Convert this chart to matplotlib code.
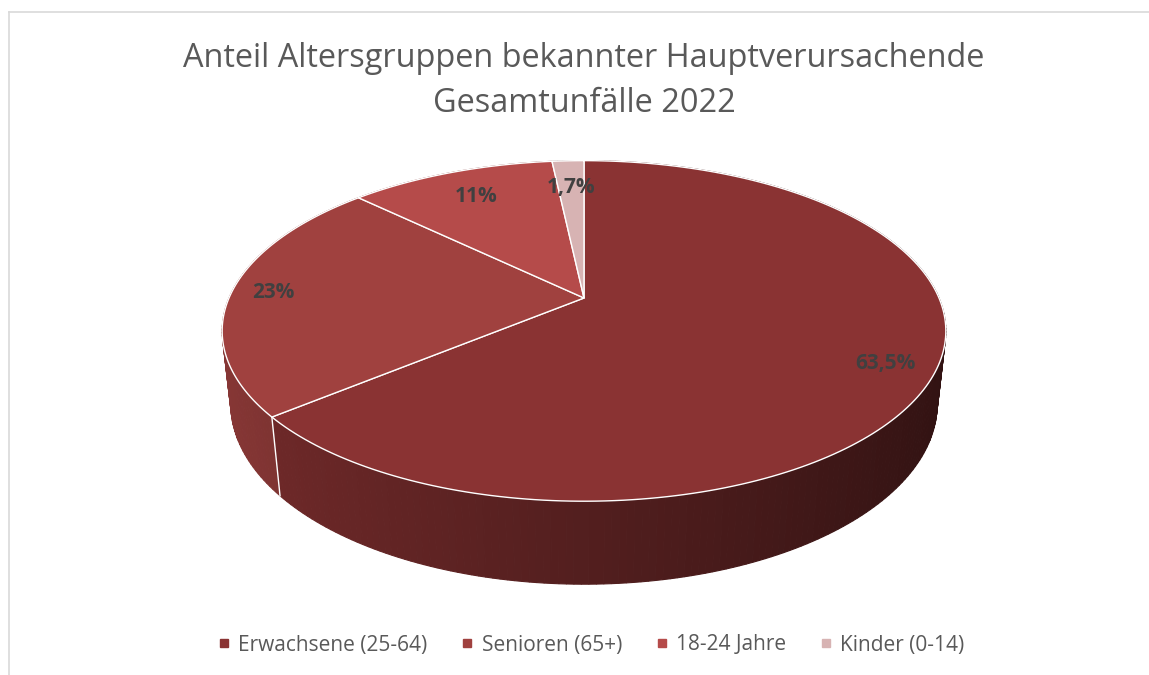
import numpy as np
import matplotlib
matplotlib.use('Agg')
import matplotlib.pyplot as plt
from matplotlib.patches import Polygon
from matplotlib.lines import Line2D

# data
categories = ['Erwachsene (25-64)', 'Senioren (65+)', '18-24 Jahre', 'Kinder (0-14)']
shares = [63.5, 23, 11, 1.7]
colors = ['#8a3333', '#a0413f', '#b54b4a', '#d7b3b3']
title = 'Anteil Altersgruppen bekannter Hauptverursachende\nGesamtunfälle 2022'

plt.rcParams['font.family'] = ['Open Sans', 'DejaVu Sans']

# 3d view of the pie, in pixel units of the figure
W, H = 1149, 675
ELEV = np.radians(27.5)
PERSP = 0.218
DEPTH = 0.234
SCALE = 355
CX, CY = 584, 298
LABEL_R = [0.87, 0.88, 0.78, 0.78]


def project(phi, r=1.0, z=0.0):
    # phi runs clockwise from 12 o'clock, like in excel
    x = r * np.sin(phi)
    y = r * np.cos(phi)
    dep = y * np.cos(ELEV) - z * np.sin(ELEV)
    f = 1 + PERSP * dep
    u = x / f
    v = (y * np.sin(ELEV) + z * np.cos(ELEV)) / f
    return CX + SCALE * u, CY - SCALE * v


def shade(color, phi):
    rgb = np.array(matplotlib.colors.to_rgb(color))
    f = 0.6 - 0.25 * np.sin(phi)
    return tuple(np.clip(rgb * f, 0, 1))


fig = plt.figure(figsize=(W / 100, H / 100), dpi=100)
ax = fig.add_axes([0, 0, 1, 1])
ax.set_xlim(0, W)
ax.set_ylim(H, 0)
ax.axis('off')

vals = np.array(shares, dtype=float)
bounds = np.concatenate([[0], np.cumsum(vals)]) / vals.sum() * 2 * np.pi

# side of the cylinder, far pieces first
quads = []
for i, c in enumerate(colors):
    a0, a1 = bounds[i], bounds[i + 1]
    n = max(2, int(np.degrees(a1 - a0)))
    ph = np.linspace(a0, a1, n + 1)
    for p0, p1 in zip(ph[:-1], ph[1:]):
        pm = (p0 + p1) / 2
        pts = [project(p0), project(p1),
               project(p1, z=-DEPTH), project(p0, z=-DEPTH)]
        quads.append((np.cos(pm), pts, shade(c, pm)))
quads.sort(key=lambda q: -q[0])
for _, pts, col in quads:
    ax.add_patch(Polygon(pts, closed=True, facecolor=col, edgecolor=col,
                         linewidth=0.8))

# white seams on the visible side
for b in bounds:
    if np.cos(b) < -0.2:
        x0, y0 = project(b)
        x1, y1 = project(b, z=-DEPTH)
        ax.plot([x0, x1], [y0, y1], color='white', linewidth=1.0)

# top of the pie
for i, c in enumerate(colors):
    ph = np.linspace(bounds[i], bounds[i + 1], 200)
    pts = [project(0, r=0)] + [project(p) for p in ph]
    ax.add_patch(Polygon(pts, closed=True, facecolor=c, edgecolor='white',
                         linewidth=1.0, joinstyle='round'))

# data labels
for i, v in enumerate(shares):
    mid = (bounds[i] + bounds[i + 1]) / 2
    x, y = project(mid, r=LABEL_R[i])
    lab = '{:g}'.format(v).replace('.', ',') + '%'
    ax.text(x, y, lab, ha='center', va='center', fontsize=15,
            fontweight='bold', color='#404040')

ax.text(584, 81, title, ha='center', va='center', fontsize=23.4,
        color='#595959', linespacing=1.5)

# chart frame
ax.plot([8.5, 8.5], [H, 11.5], color='#d9d9d9', linewidth=1.2)
ax.plot([8.5, W], [11.5, 11.5], color='#d9d9d9', linewidth=1.2)

handles = [Line2D([], [], linestyle='none', marker='s', markersize=6,
                  markerfacecolor=c, markeredgecolor=c) for c in colors]
fig.legend(handles, categories, loc='center', bbox_to_anchor=(591 / W, 1 - 645 / H),
           ncol=4, frameon=False, fontsize=15, labelcolor='#595959',
           handlelength=0.6, handletextpad=0.4, columnspacing=1.6)

fig.savefig('out.png', dpi=100)
